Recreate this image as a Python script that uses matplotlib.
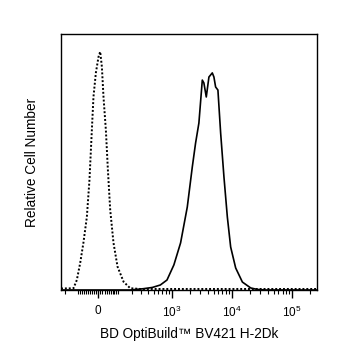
import numpy as np
import matplotlib
matplotlib.use("Agg")
import matplotlib.pyplot as plt
from matplotlib.ticker import FixedLocator, FixedFormatter

plt.rcParams['font.family'] = ['Liberation Sans', 'DejaVu Sans']
plt.rcParams['mathtext.fontset'] = 'custom'
plt.rcParams['mathtext.rm'] = 'Liberation Sans'
plt.rcParams['mathtext.it'] = 'Liberation Sans'
plt.rcParams['mathtext.bf'] = 'Liberation Sans'

# Control (dotted) histogram: fluorescence vs relative count
ctrl_x = [-236, -132, -110, -90, -72, -54, -41, -29.5, -21.9, -10.7, 1.4, 9.3,
          17.2, 24.7, 36.1, 46, 57.6, 75, 98, 137, 188, 290, 1000, 10000, 262144]
ctrl_y = [0.6, 0.66, 3.9, 10.5, 18.4, 28.5, 43.0, 62.5, 75.4, 84.8, 91.0, 93.1,
          87.2, 75.5, 62.5, 46.9, 31.3, 18.4, 9.1, 3.2, 0.7, 0.4, 0.4, 0.4, 0.4]

# Stained (solid) histogram
stain_x = [-236, 188, 329, 473, 646, 837, 1092, 1413, 1827, 2213, 2512, 2851,
           3250, 3451, 3784, 4188, 4765, 5070, 5410, 5910, 6560, 7447, 8478,
           9622, 11660, 15080, 20730, 26790, 36900, 262144]
stain_y = [0.0, 0.0, 0.5, 1.0, 1.95, 3.9, 9.8, 18.4, 32.4, 48.0, 57.4, 65.2,
           82.0, 80.9, 75.4, 83.2, 84.8, 83.2, 79.3, 78.1, 61.3, 44.1, 28.5,
           16.8, 8.6, 3.1, 0.8, 0.2, 0.0, 0.0]

major_ticks = [0, 1e3, 1e4, 1e5]
major_labels = ['0', r'$10^3$', r'$10^4$', r'$10^5$']
minor_ticks = ([-v for v in range(10, 100, 10)] + [-v for v in range(100, 300, 100)] +
               list(range(10, 100, 10)) + list(range(100, 1000, 100)) +
               list(range(2000, 10000, 1000)) + list(range(20000, 100000, 10000)) +
               [200000])

C = 120.8
LN10 = np.log(10)


def fwd(x):
    return np.arcsinh(np.asarray(x, dtype=float) / C) / LN10


def inv(y):
    return C * np.sinh(np.asarray(y, dtype=float) * LN10)


fig = plt.figure(figsize=(3.37, 3.60), dpi=100)
ax = fig.add_axes([61 / 337, 70 / 360, 256 / 337, 256 / 360])
ax.set_xscale('function', functions=(fwd, inv))

ax.plot(ctrl_x, ctrl_y, color='black', linestyle=(0, (1, 1)), linewidth=1.4)
ax.plot(stain_x, stain_y, color='black', linestyle='-', linewidth=1.2)

ax.set_xlim(-236, 262144)
ax.set_ylim(0, 100)

ax.xaxis.set_major_locator(FixedLocator(major_ticks))
ax.xaxis.set_major_formatter(FixedFormatter(major_labels))
ax.xaxis.set_minor_locator(FixedLocator(minor_ticks))
ax.tick_params(axis='x', which='major', direction='out', length=6, width=1,
               labelsize=8.5, pad=5)
ax.tick_params(axis='x', which='minor', direction='out', length=3, width=0.8)
ax.set_yticks([])

for s in ax.spines.values():
    s.set_linewidth(1.0)
    s.set_color('black')

ax.set_xlabel('BD OptiBuild™ BV421 H-2Dk', fontsize=9.8, labelpad=5)
ax.set_ylabel('Relative Cell Number', fontsize=9.8, labelpad=16)

fig.savefig('out.png', dpi=100)
